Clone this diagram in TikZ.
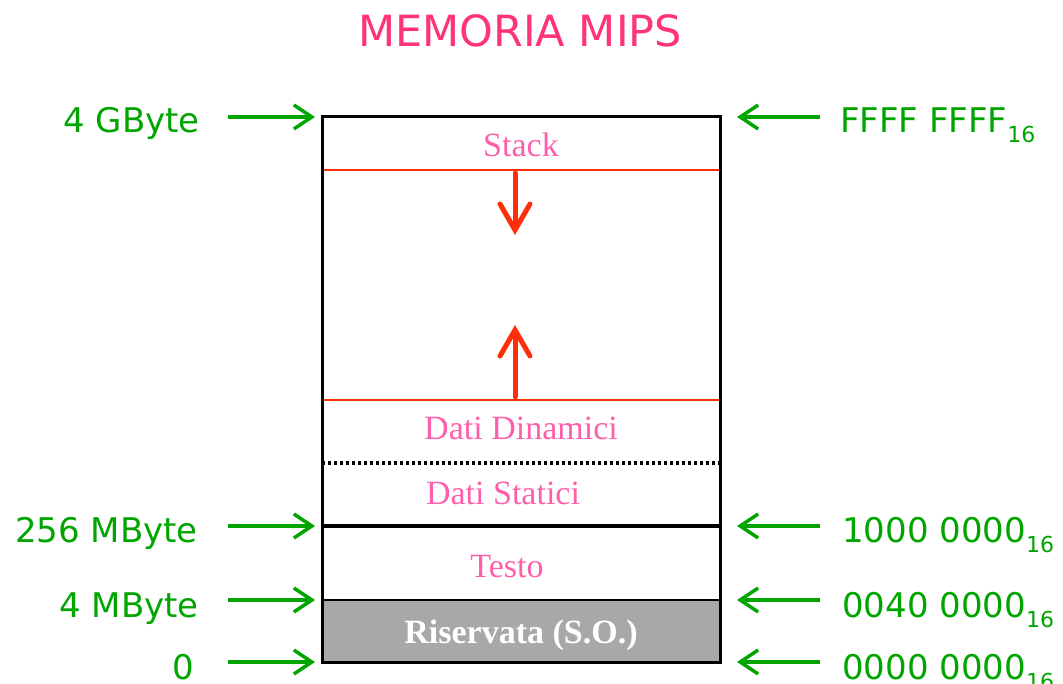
\documentclass[tikz,border=0pt]{standalone}
\usepackage{fontspec}
\setmainfont{Liberation Serif}
\newfontfamily\dejavu{DejaVu Sans}
\usetikzlibrary{arrows.meta}
\definecolor{tgreen}{RGB}{0,165,0}
\definecolor{tpink}{RGB}{255,51,119}
\definecolor{spink}{RGB}{255,95,170}
\definecolor{sred}{RGB}{255,45,10}
\definecolor{rgray}{RGB}{168,168,168}
\tikzset{
  lbl/.style={font=\dejavu\fontsize{34}{40}\selectfont, text=tgreen, inner sep=0pt},
  seglbl/.style={font=\fontsize{34}{40}\selectfont, text=spink, inner sep=0pt, anchor=base},
  garrow/.style={draw=tgreen, line width=3.5pt, -{Straight Barb[length=18pt,width=24pt]}},
  rarrow/.style={draw=sred, line width=5pt, line cap=round, -{Straight Barb[length=26pt,width=30pt,line cap=round]}},
  redline/.style={draw=sred, line width=1.6pt},
}
\newcommand{\hexsub}{{\fontsize{22}{26}\selectfont\raisebox{-10pt}{16}}}
\begin{document}
\begin{tikzpicture}[x=1pt,y=-1pt]
\useasboundingbox (0,0) rectangle (1063,684);
\clip (0,0) rectangle (1063,684);
% title
\node[font=\dejavu\fontsize{43}{50}\selectfont, text=tpink, anchor=base, inner sep=0pt] (title) at (520,47) {MEMORIA MIPS};
% memory box
\fill[rgray] (322,600) rectangle (720,662);
\draw[redline] (322,170) -- (720,170);
\draw[redline] (322,400) -- (720,400);
\draw[line width=3.2pt, dash pattern=on 3.2pt off 2.8pt] (322,463) -- (720,463);
\draw[line width=3.5pt] (322,526) -- (720,526);
\draw[line width=2.5pt] (322,600) -- (720,600);
\draw[line width=3pt] (322,117) rectangle (720,662);
% segment labels
\node[seglbl] (stack) at (521,157) {Stack};
\node[seglbl] (dyn) at (521,439) {Dati Dinamici};
\node[seglbl] (stat) at (503,504) {Dati Statici};
\node[seglbl] (testo) at (507,577) {Testo};
\node[seglbl, text=white, font=\bfseries\fontsize{34}{40}\selectfont] (ris) at (521,643) {Riservata (S.O.)};
% red growth arrows
\coordinate (sd0) at (515,173);
\coordinate (sd1) at (515,235);
\coordinate (hu0) at (515,397);
\coordinate (hu1) at (515,325);
\draw[rarrow] (sd0) -- (sd1);
\draw[rarrow] (hu0) -- (hu1);
% left addresses
\node[lbl, anchor=base east] (l1) at (200,133) {4 GByte};
\node[lbl, anchor=base east] (l2) at (198,542) {256 MByte};
\node[lbl, anchor=base east] (l3) at (199,617) {4 MByte};
\node[lbl, anchor=base east] (l4) at (194,679) {0};
\coordinate (la1) at (228,117); \coordinate (lb1) at (315,117);
\coordinate (la2) at (228,526); \coordinate (lb2) at (315,526);
\coordinate (la3) at (228,600); \coordinate (lb3) at (315,600);
\coordinate (la4) at (228,662); \coordinate (lb4) at (315,662);
\draw[garrow] (la1) -- (lb1);
\draw[garrow] (la2) -- (lb2);
\draw[garrow] (la3) -- (lb3);
\draw[garrow] (la4) -- (lb4);
% right addresses
\node[lbl, anchor=base west] (r1) at (840,133) {FFFF FFFF\hexsub};
\node[lbl, anchor=base west] (r2) at (842,542) {1000 0000\hexsub};
\node[lbl, anchor=base west] (r3) at (842,617) {0040 0000\hexsub};
\node[lbl, anchor=base west] (r4) at (842,679) {0000 0000\hexsub};
\coordinate (ra1) at (820,117); \coordinate (rb1) at (737,117);
\coordinate (ra2) at (820,526); \coordinate (rb2) at (737,526);
\coordinate (ra3) at (820,600); \coordinate (rb3) at (737,600);
\coordinate (ra4) at (820,662); \coordinate (rb4) at (737,662);
\draw[garrow] (ra1) -- (rb1);
\draw[garrow] (ra2) -- (rb2);
\draw[garrow] (ra3) -- (rb3);
\draw[garrow] (ra4) -- (rb4);
\end{tikzpicture}
\end{document}
